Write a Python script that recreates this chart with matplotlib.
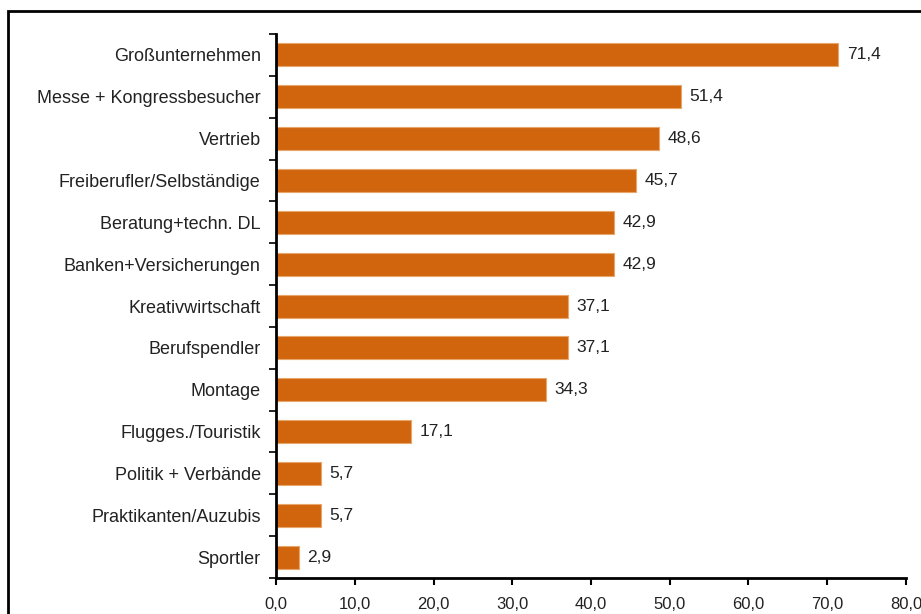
import matplotlib.pyplot as plt
from matplotlib.patches import Rectangle
from matplotlib.ticker import MultipleLocator, FuncFormatter, FixedLocator

plt.rcParams['font.family'] = ['Liberation Sans', 'DejaVu Sans']

# Anteil in Prozent je Zielgruppe
gruppen = [
    "Großunternehmen", "Messe + Kongressbesucher", "Vertrieb",
    "Freiberufler/Selbständige", "Beratung+techn. DL", "Banken+Versicherungen",
    "Kreativwirtschaft", "Berufspendler", "Montage", "Flugges./Touristik",
    "Politik + Verbände", "Praktikanten/Auzubis", "Sportler",
]
werte = [71.4, 51.4, 48.6, 45.7, 42.9, 42.9, 37.1, 37.1, 34.3, 17.1, 5.7, 5.7, 2.9]

def komma(x, pos=None):
    return f'{x:.1f}'.replace('.', ',')

fig = plt.figure(figsize=(9.21, 6.14), dpi=100)
ax = fig.add_axes([0.2997, 0.0586, 0.6840, 0.8860])

# Rahmen um das Diagramm
fig.patches.append(Rectangle((8 / 921, -0.05), 1.2, 1 - 11 / 614 + 0.05,
                             transform=fig.transFigure, fill=False,
                             edgecolor='black', linewidth=2))

pos = list(range(len(gruppen)))[::-1]
ax.barh(pos, werte, height=0.55, color='#D0650E', edgecolor='#E9A66A', linewidth=0.8)

for y, w in zip(pos, werte):
    ax.text(w + 1.1, y, komma(w), va='center', ha='left', fontsize=12.5, color='#222222')

ax.set_xlim(0, 80)
ax.set_ylim(-0.5, len(gruppen) - 0.5)
ax.xaxis.set_major_locator(MultipleLocator(10))
ax.xaxis.set_major_formatter(FuncFormatter(komma))

# Kategorienamen mittig, Teilstriche zwischen den Balken
ax.set_yticks(pos)
ax.set_yticklabels(gruppen, fontsize=13, color='#222222')
ax.yaxis.set_minor_locator(FixedLocator([p - 0.5 for p in range(len(gruppen) + 1)]))
ax.tick_params(axis='y', which='major', length=0, pad=11)
ax.tick_params(axis='y', which='minor', length=5, width=1.2, direction='out')
ax.tick_params(axis='x', length=5, width=1.5, direction='out', labelsize=12,
               labelcolor='#222222', pad=9)

for s in ['top', 'right']:
    ax.spines[s].set_visible(False)
for s in ['left', 'bottom']:
    ax.spines[s].set_linewidth(2)

plt.savefig('out.png', dpi=100)
